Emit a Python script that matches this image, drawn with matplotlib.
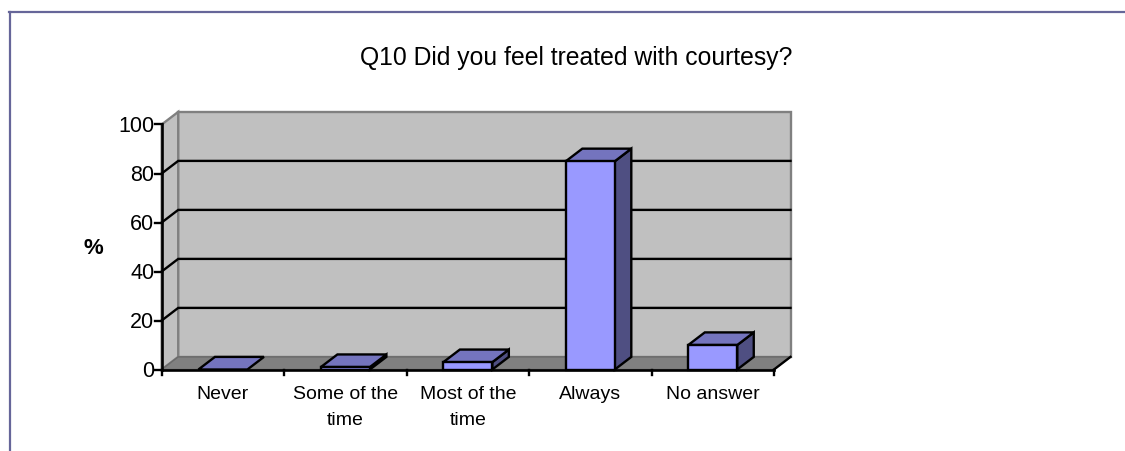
import matplotlib
matplotlib.use("Agg")
import matplotlib.pyplot as plt
from matplotlib.patches import Polygon

plt.rcParams['font.family'] = ['Liberation Sans', 'DejaVu Sans']

categories = ["Never", "Some of the\ntime", "Most of the\ntime", "Always", "No answer"]
values = [0, 1, 3, 85, 10]
y_ticks = [0, 20, 40, 60, 80, 100]
title = "Q10 Did you feel treated with courtesy?"
y_label = "%"

W, H = 1125, 452
fig = plt.figure(figsize=(W / 100, H / 100), dpi=100, facecolor='white')
x0, x1, ytop, ybot = 161.7, 774, 125.5, 370.5
ax = fig.add_axes([x0 / W, 1 - ybot / H, (x1 - x0) / W, (ybot - ytop) / H])
ax.set_xlim(0, len(categories))
ax.set_ylim(0, 100)
ax.axis('off')

DX = 16.5 / ((x1 - x0) / len(categories))
DY = 12.6 / ((ybot - ytop) / 100)
n = len(categories)
GRAY = '#C0C0C0'
EDGE = '#808080'

def poly(pts, fc, ec, lw, z):
    ax.add_patch(Polygon(pts, closed=True, facecolor=fc, edgecolor=ec, linewidth=lw,
                         zorder=z, clip_on=False, joinstyle='miter'))

# walls and floor
poly([(DX, DY), (n + DX, DY), (n + DX, 100 + DY), (DX, 100 + DY)], GRAY, EDGE, 1.7, 1)
poly([(0, 0), (DX, DY), (DX, 100 + DY), (0, 100)], GRAY, EDGE, 1.7, 1)
poly([(0, 0), (n, 0), (n + DX, DY), (DX, DY)], EDGE, '#6A6A6A', 1.0, 1)

# gridlines
for t in y_ticks[1:-1]:
    ax.plot([0, DX, n + DX], [t, t + DY, t + DY], color='black', lw=1.7, zorder=2,
            clip_on=False, solid_joinstyle='miter')

# bars
bw = 0.4
for i, v in enumerate(values):
    l, r = i + 0.3, i + 0.3 + bw
    if v > 0:
        poly([(r, 0), (r + DX, DY), (r + DX, v + DY), (r, v)], '#4F4F82', 'black', 1.7, 4)
    poly([(l, v), (r, v), (r + DX, v + DY), (l + DX, v + DY)], '#7474BE', 'black', 1.7, 4)
    if v > 0:
        poly([(l, 0), (r, 0), (r, v), (l, v)], '#9999FF', 'black', 1.7, 5)

# axis lines and ticks
ax.plot([0, 0], [0, 100], color='black', lw=1.9, zorder=6, clip_on=False)
ax.plot([0, n], [0, 0], color='black', lw=1.9, zorder=6, clip_on=False)
ax.plot([n, n + DX], [0, DY], color='black', lw=1.7, zorder=6, clip_on=False)
tick_h = 2.4
tick_w = 6.5 / ((x1 - x0) / n)
for t in y_ticks:
    ax.plot([-tick_w, 0], [t, t], color='black', lw=1.7, zorder=6, clip_on=False)
    ax.text(-tick_w - 0.008, t - 0.4, str(t), ha='right', va='center', fontsize=15.5, color='black')
for i in range(n + 1):
    ax.plot([i, i], [0, -tick_h], color='black', lw=1.7, zorder=6, clip_on=False)
for i, c in enumerate(categories):
    ax.text(i + 0.5, -6.2, c, ha='center', va='top', fontsize=14, color='black', linespacing=1.75)

fig.text(93 / W, 1 - 248.5 / H, y_label, ha='center', va='center', fontsize=16, fontweight='bold')
fig.text(576.5 / W, 1 - 57.5 / H, title, ha='center', va='center', fontsize=17.8)

# outer frame
c = '#666699'
fig.add_artist(plt.Line2D([10 / W, 10 / W], [0, 1 - 13 / H], color=c, lw=1.6, transform=fig.transFigure))
fig.add_artist(plt.Line2D([9 / W, 1], [1 - 13 / H, 1 - 13 / H], color=c, lw=1.6, transform=fig.transFigure))

fig.savefig('out.png', dpi=100, facecolor='white')
